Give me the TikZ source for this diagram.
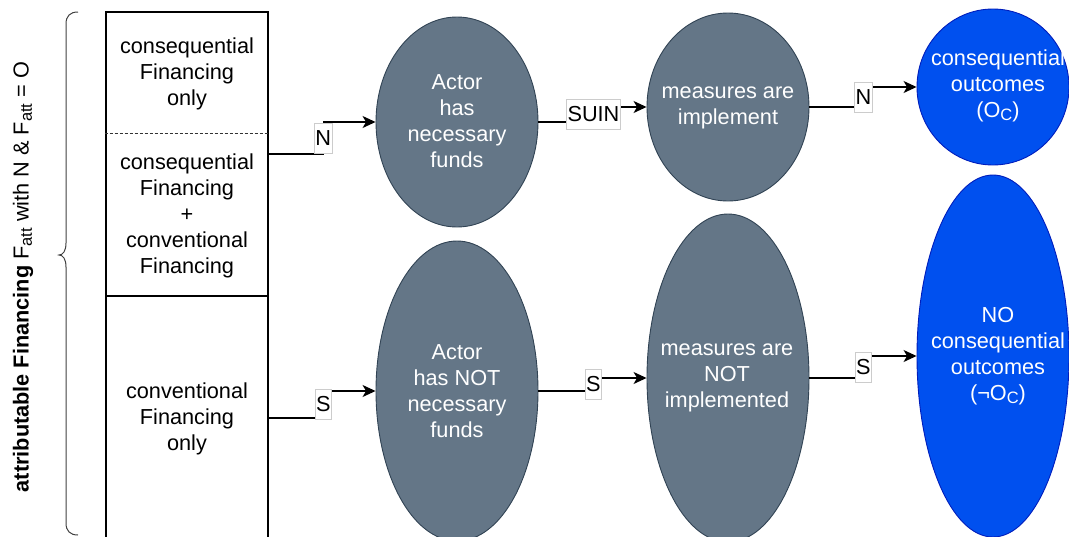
\documentclass[tikz,border=0pt]{standalone}
\usepackage{fontspec}
\setmainfont{Liberation Sans}
\usetikzlibrary{shapes.geometric,arrows.meta}

\definecolor{slatefill}{HTML}{647687}
\definecolor{slateline}{HTML}{314354}
\definecolor{bluefill}{HTML}{0050EF}
\definecolor{blueline}{HTML}{001DBC}

% subscript in the style of the diagram labels
\newcommand{\lowidx}[1]{\raisebox{-0.28ex}{\fontsize{16.5}{16.5}\selectfont #1}}

\tikzset{
  txt/.style={font=\fontsize{21.7}{26}\selectfont, align=center, inner sep=0pt},
  section/.style={draw=black, line width=2.6pt, inner sep=0pt},
  slate/.style={ellipse, draw=slateline, line width=0.9pt, fill=slatefill, inner sep=0pt},
  outcome/.style={ellipse, draw=blueline, line width=0.9pt, fill=bluefill, inner sep=0pt},
  inside/.style={txt, text=white},
  lbl/.style={draw=black!20, fill=white, line width=0.6pt,
              font=\fontsize{21.7}{26}\selectfont, inner xsep=1pt, inner ysep=0pt,
              minimum height=30pt},
  flow/.style={draw=black, line width=1.2pt,
               -{Stealth[length=13pt, width=12pt, inset=3.5pt]}},
}

\begin{document}
\begin{tikzpicture}[x=1pt, y=-1pt]
  \useasboundingbox (0,0) rectangle (1069,536);
  \clip (0,0) rectangle (1069,536);

  % side caption and brace
  \node[txt, rotate=90] (caption) at (23,277)
    {\textbf{attributable Financing} F\lowidx{att} with N \& F\lowidx{att} = O};
  \draw[black!75, line width=1pt]
    (78,12) .. controls (70,12) and (66,16) .. (66,24) -- (66,243)
    .. controls (66,251) and (63,255) .. (59,255)
    .. controls (63,255) and (66,259) .. (66,267) -- (66,523)
    .. controls (66,531) and (70,535) .. (78,535);

  % financing sections
  \node[section, minimum width=162pt, minimum height=284pt] (upbox) at (187,154) {};
  \node[section, minimum width=162pt, minimum height=244pt] (lowbox) at (187,418) {};
  \draw[black!80, line width=0.8pt, dash pattern=on 3pt off 2pt]
    (upbox.west |- 0,133) coordinate (sepL) -- (upbox.east |- 0,133) coordinate (sepR);

  \node[txt] (consonly) at (187,74) {consequential\\Financing\\only};
  \node[txt] (mixed) at (187,216) {consequential\\Financing\\+\\conventional\\Financing};
  \node[txt] (convonly) at (187,419) {conventional\\Financing\\only};

  % actor and measure states
  \node[slate, minimum width=162pt, minimum height=210pt] (e1) at (457,122) {};
  \node[inside] (t1) at (457,121) {Actor\\has\\necessary\\funds};
  \node[slate, minimum width=162pt, minimum height=188pt] (e2) at (728,107) {};
  \node[inside] (t2) at (728,108) {measures are\\implement};
  \node[outcome, minimum width=152pt, minimum height=156pt] (e3) at (993,87) {};
  \node[inside] (t3) at (998,86) {consequential\\outcomes\\(O\lowidx{C})};

  \node[slate, minimum width=162pt, minimum height=300pt] (e4) at (457,391) {};
  \node[inside] (t4) at (457,391) {Actor\\has NOT\\necessary\\funds};
  \node[slate, minimum width=162pt, minimum height=328pt] (e5) at (728,378) {};
  \node[inside] (t5) at (727,378) {measures are\\NOT\\implemented};
  \node[outcome, minimum width=152pt, minimum height=362pt] (e6) at (993,356) {};
  \node[inside] (t6) at (998,356) {NO\\consequential\\outcomes\\(¬O\lowidx{C})};

  % connectors
  \draw[flow] (upbox.east) -- ++(54,0) |- node[lbl, pos=0.25] (lN1) {N} (e1.west);
  \draw[flow] (e1.east) -- ++(55,0) |- node[lbl, pos=0.25] (lSUIN) {SUIN} (e2.west);
  \draw[flow] (e2.east) -- ++(54,0) |- node[lbl, pos=0.25] (lN2) {N} (e3.west);

  \draw[flow] (lowbox.east) -- ++(54,0) |- node[lbl, pos=0.25] (lS1) {S} (e4.west);
  \draw[flow] (e4.east) -- ++(55,0) |- node[lbl, pos=0.25] (lS2) {S} (e5.west);
  \draw[flow] (e5.east) -- ++(54,0) |- node[lbl, pos=0.25] (lS3) {S} (e6.west);
\end{tikzpicture}
\end{document}
